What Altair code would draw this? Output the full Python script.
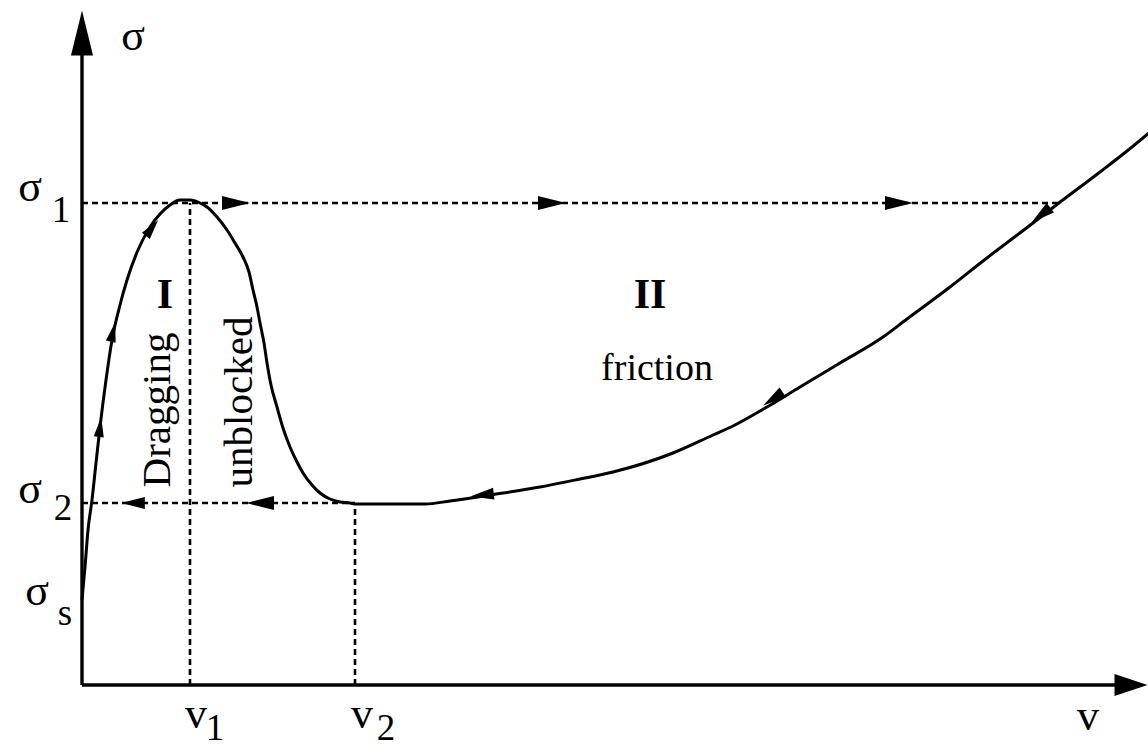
import altair as alt
import pandas as pd

# Schematic units: v measured right from the origin, sigma measured up from the v axis
V_DOMAIN = [-82, 1066]
S_DOMAIN = [-64, 685]
FONT = "Liberation Serif"

# Characteristic levels
sigma_1 = 482
sigma_2 = 182
v_1 = 108
v_2 = 273
v_cross = 976  # where the sigma_1 jump meets the friction branch

# Flow curve sigma(v)
curve_v = [0, 3, 6, 10, 14, 18, 24, 30, 38, 45, 56, 68, 78, 88, 98, 108, 118, 125, 135, 145,
           153, 161, 167, 171, 175, 178, 182, 185, 189, 195, 201, 208, 215, 221, 230, 238, 248,
           258, 268, 274, 343, 368, 408, 458, 498, 531, 591, 631, 651, 685, 718, 758, 801, 825,
           868, 901, 951, 973, 1018, 1045, 1068]
curve_s = [85, 118, 155, 185, 222, 258, 305, 345, 380, 405, 435, 458, 471, 480, 485, 485, 482,
           478, 468, 455, 442, 428, 413, 395, 378, 362, 342, 322, 300, 278, 257, 238, 223, 212,
           200, 192, 186, 183, 182, 181, 181, 184, 190, 198, 206, 213, 232, 250, 259, 278, 298,
           322, 348, 366, 398, 424, 462, 479, 513, 534, 553]

# Direction markers (position and heading in degrees, clockwise from +v)
big_arrow_v = [154, 470, 817, 178]
big_arrow_s = [sigma_1, sigma_1, sigma_1, sigma_2]
big_arrow_dir = [0, 0, 0, 180]

mid_arrow_v = [400, 691, 959, 51]
mid_arrow_s = [190, 286, 470, sigma_2]
mid_arrow_dir = [173, 146, 142, 180]

small_arrow_v = [18, 31, 70]
small_arrow_s = [258, 353, 457]
small_arrow_dir = [277, 283, 308]

# Labels
symbol_text = ["σ", "σ", "σ", "σ", "v", "v", "v"]
symbol_v = [51, -52, -52, -45, 114, 280, 1006]
symbol_s = [635, 484, 182, 80, -43, -43, -45]

index_text = ["1", "2", "s", "1", "2"]
index_v = [-21, -19, -17, 133, 304]
index_s = [463, 165, 60, -55, -55]

region_text = ["I", "II"]
region_v = [83, 568]
region_s = [377, 377]

xs = alt.Scale(domain=V_DOMAIN, nice=False, zero=False)
ys = alt.Scale(domain=S_DOMAIN, nice=False, zero=False)


def X(field):
    return alt.X(field, type="quantitative", scale=xs, axis=None)


def Y(field):
    return alt.Y(field, type="quantitative", scale=ys, axis=None)


axes_df = pd.DataFrame({"v": [0, 0], "s": [0, 0], "v2": [0, 1040], "s2": [640, 0]})
axes = alt.Chart(axes_df).mark_rule(color="black", strokeWidth=3.4).encode(
    x=X("v"), y=Y("s"), x2="v2", y2="s2")

guides_df = pd.DataFrame({
    "v": [0, 0, v_1, v_2],
    "s": [sigma_1, sigma_2, 0, 0],
    "v2": [v_cross, v_2, v_1, v_2],
    "s2": [sigma_1, sigma_2, sigma_1, sigma_2 - 2],
})
guides = alt.Chart(guides_df).mark_rule(color="black", strokeWidth=2.6, strokeDash=[6, 4]).encode(
    x=X("v"), y=Y("s"), x2="v2", y2="s2")

curve = alt.Chart(pd.DataFrame({"v": curve_v, "s": curve_s})).mark_line(
    color="black", strokeWidth=3, interpolate="monotone").encode(x=X("v"), y=Y("s"))

ARROW = "M-1,-0.5L1,0L-1,0.5Z"


def arrows(vs, ss, dirs, size, shape=ARROW):
    df = pd.DataFrame({"v": vs, "s": ss, "dir": dirs})
    return alt.Chart(df).mark_point(shape=shape, filled=True, fill="black", stroke=None,
                                    opacity=1, size=size).encode(
        x=X("v"), y=Y("s"), angle=alt.Angle("dir:Q", scale=None))


big = arrows(big_arrow_v, big_arrow_s, big_arrow_dir, 784)
mid = arrows(mid_arrow_v, mid_arrow_s, mid_arrow_dir, 560)
small = arrows(small_arrow_v, small_arrow_s, small_arrow_dir, 400)
y_head = arrows([0], [652], [270], 2025, "M-1,-0.49L1,0L-1,0.49Z")
x_head = arrows([1049], [0], [0], 1089, "M-1,-0.67L1,0L-1,0.67Z")


def labels(texts, vs, ss, size, **kw):
    df = pd.DataFrame({"t": texts, "v": vs, "s": ss})
    return alt.Chart(df).mark_text(font=FONT, fontSize=size, color="black",
                                   align="center", baseline="alphabetic", **kw).encode(
        x=X("v"), y=Y("s"), text="t:N")


symbols = labels(symbol_text, symbol_v, symbol_s, 44)
indices = labels(index_text, index_v, index_s, 37)
regions = labels(region_text, region_v, region_s, 42, fontWeight="bold")
friction = labels(["friction"], [575], [305], 38)
dragging = labels(["Dragging"], [88], [275], 41, angle=270)
unblocked = labels(["unblocked"], [170], [283], 41, angle=270)

chart = alt.layer(
    guides, axes, curve, big, mid, small, y_head, x_head,
    symbols, indices, regions, friction, dragging, unblocked,
).properties(
    width=1148, height=749, padding=0, autosize="none", background="white"
).configure_view(stroke=None)

chart.save("out.html", embed_options={"renderer": "svg", "actions": False})
